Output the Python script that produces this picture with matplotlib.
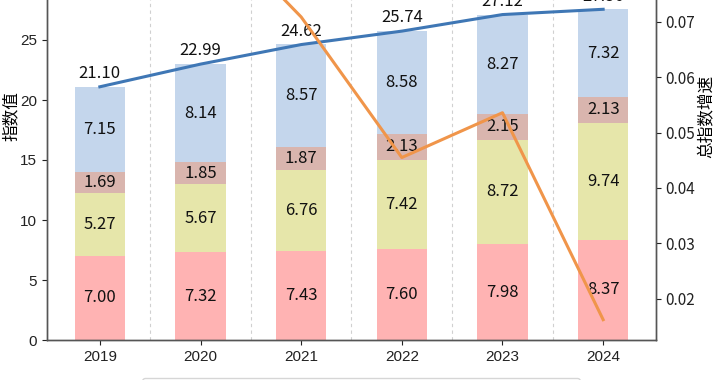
import numpy as np
import matplotlib
matplotlib.use("Agg")
import matplotlib.pyplot as plt
from matplotlib.ticker import FormatStrFormatter

plt.rcParams['font.family'] = ['Noto Sans CJK SC', 'DejaVu Sans']
plt.rcParams['axes.unicode_minus'] = False

# data
years = ['2019', '2020', '2021', '2022', '2023', '2024']
part1 = [7.00, 7.32, 7.43, 7.60, 7.98, 8.37]
part2 = [5.27, 5.67, 6.76, 7.42, 8.72, 9.74]
part3 = [1.69, 1.85, 1.87, 2.13, 2.15, 2.13]
part4 = [7.15, 8.14, 8.57, 8.58, 8.27, 7.32]
totals = [21.10, 22.99, 24.62, 25.74, 27.12, 27.56]
growth = [np.nan, 0.0896, 0.0709, 0.0455, 0.0536, 0.0162]
names = ['分项指数一', '分项指数二', '分项指数三', '分项指数四']

colors = ['#FFB3B3', '#E6E6AA', '#D9B5AE', '#C4D6EC']
spine_c = '#555555'

fig = plt.figure(figsize=(7.2, 3.8), dpi=100)
ax = fig.add_axes([47 / 720, 40 / 380, 609 / 720, 447 / 380])
x = np.arange(len(years))

bottom = np.zeros(len(years))
for vals, c, n in zip([part1, part2, part3, part4], colors, names):
    vals = np.array(vals)
    ax.bar(x, vals, 0.5, bottom=bottom, color=c, label=n, zorder=2)
    for xi, b, v in zip(x, bottom, vals):
        ax.text(xi, b + v / 2, f'{v:.2f}', ha='center', va='center',
                fontsize=12, color='#111111', zorder=3)
    bottom = bottom + vals

for xi, t in zip(x, totals):
    ax.text(xi, t + 1.1, f'{t:.2f}', ha='center', va='center',
            fontsize=12, color='#111111', zorder=3)

ax.plot(x, totals, color='#3F77B5', lw=2.2, label='总指数', zorder=4)

for s in x[:-1]:
    ax.axvline(s + 0.5, color='#D0D0D0', lw=0.8, ls=(0, (3, 3)), zorder=1)

ax.set_xlim(-0.525, 5.525)
ax.set_ylim(0, 37.25)
ax.set_xticks(x)
ax.set_xticklabels(years, family=['Liberation Sans', 'DejaVu Sans'], fontsize=11)
ax.set_yticks(np.arange(0, 40, 5))
for lbl in ax.get_yticklabels():
    lbl.set_fontfamily(['Liberation Sans', 'DejaVu Sans'])
    lbl.set_fontsize(11)
ax.set_ylabel('指数值', fontsize=12)
ax.yaxis.set_label_coords(-0.045, 0.5)

ax2 = ax.twinx()
ax2.plot(x, growth, color='#F0954A', lw=2.2, label='总指数增速', zorder=5)
ax2.set_ylim(0.01253, 0.0933)
ax2.yaxis.set_major_formatter(FormatStrFormatter('%.2f'))
ax2.tick_params(labelsize=11)
ax2.set_ylabel('总指数增速', fontsize=12)
ax2.yaxis.set_label_coords(1.07, 0.5)

for a in (ax, ax2):
    a.spines['top'].set_visible(False)
    for sp in ('left', 'right', 'bottom'):
        a.spines[sp].set_color(spine_c)
        a.spines[sp].set_linewidth(1.0)
    a.tick_params(colors='#222222')

h1, l1 = ax.get_legend_handles_labels()
h2, l2 = ax2.get_legend_handles_labels()
fig.legend(h1 + h2, l1 + l2, loc='upper left', ncol=6, mode='expand',
           bbox_to_anchor=(142 / 720, 1 - 378 / 380 - 0.2, 438 / 720, 0.2),
           borderaxespad=0, frameon=True, edgecolor='#CCCCCC', fontsize=10)

fig.savefig('out.png', dpi=100)
